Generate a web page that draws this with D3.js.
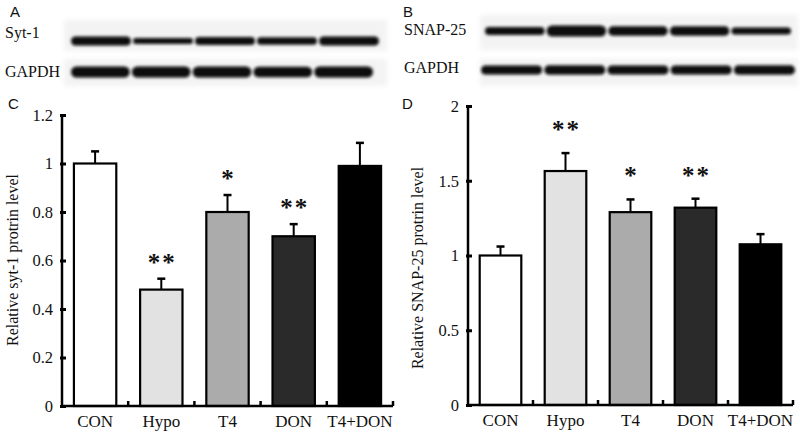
<!DOCTYPE html>
<html><head><meta charset="utf-8">
<script src="https://cdn.jsdelivr.net/npm/d3@7"></script>
<style>body{margin:0;background:#fff}svg{display:block}</style>
</head><body>
<svg id="c" width="800" height="433"></svg>
<script>
// ---- data ----
const categories = ["CON", "Hypo", "T4", "DON", "T4+DON"];
const syt1Means = [1.0, 0.48, 0.80, 0.70, 0.99];
const syt1Err   = [0.05, 0.045, 0.07, 0.05, 0.095];
const syt1Sig   = ["", "**", "*", "**", ""];
const snapMeans = [1.0, 1.565, 1.29, 1.32, 1.075];
const snapErr   = [0.06, 0.12, 0.085, 0.06, 0.068];
const snapSig   = ["", "**", "*", "**", ""];
const syt1Ticks = [0, 0.2, 0.4, 0.6, 0.8, 1.0, 1.2];
const snapTicks = [0, 0.5, 1, 1.5, 2];
const barFills  = ["#ffffff", "#e2e2e2", "#ababab", "#2a2a2a", "#000000"];
// western blot band strengths per lane (relative thickness)
const blotSyt1  = [9, 6, 8, 7.5, 9];
const blotGapdhA = [11, 11, 11, 10.5, 11];
const blotSnap  = [8, 11, 9.5, 9.5, 7];
const blotGapdhB = [9, 9.5, 9, 9, 9.5];

const svg = d3.select("#c");
const serif = "'Liberation Serif','Times New Roman',serif";
const sans = "'Liberation Sans',Arial,sans-serif";

const defs = svg.append("defs");
defs.append("filter").attr("id","blur").attr("x","-20%").attr("y","-100%").attr("width","140%").attr("height","300%")
  .append("feGaussianBlur").attr("stdDeviation", 1.4);
defs.append("filter").attr("id","blur2").attr("x","-10%").attr("y","-50%").attr("width","120%").attr("height","200%")
  .append("feGaussianBlur").attr("stdDeviation", 2.5);

// ---- panel letters ----
[["A",10,17],["B",403,17],["C",8,109],["D",402,109]].forEach(([t,x,y])=>{
  svg.append("text").attr("x",x).attr("y",y).attr("font-family",sans).attr("font-size",15).attr("fill","#111").text(t);
});

// ---- blots ----
function blot(x0, x1, yTop, yBot, yc, strengths, lanePad, label, lx, ly) {
  const g = svg.append("g");
  g.append("rect").attr("x",x0).attr("y",yTop).attr("width",x1-x0).attr("height",yBot-yTop)
    .attr("fill","#f3f3f3").attr("filter","url(#blur2)");
  const xs = d3.scaleBand().domain(d3.range(strengths.length)).range([x0+lanePad[0], x1-lanePad[1]]).paddingInner(0.0);
  g.selectAll("rect.band").data(strengths).join("rect").attr("class","band")
    .attr("x",(d,i)=>xs(i)+1).attr("width",xs.bandwidth()-2)
    .attr("y",d=>yc-d/2).attr("height",d=>d).attr("rx",d=>d/2)
    .attr("fill","#0a0a0a").attr("filter","url(#blur)");
  svg.append("text").attr("x",lx).attr("y",ly).attr("font-family",serif).attr("font-size",16).attr("fill","#111").text(label);
}
blot(64, 387, 20, 51, 41, blotSyt1, [6, 7], "Syt-1", 5, 38);
blot(64, 387, 59, 86, 72, blotGapdhA, [6, 13], "GAPDH", 5, 77);
blot(480, 798, 15, 50, 31, blotSnap, [4, 6], "SNAP-25", 404, 35);
blot(480, 798, 59, 86, 70, blotGapdhB, [0, 2], "GAPDH", 404, 73);

// ---- bar charts ----
function barChart(opt) {
  const {x0, x1, yTopPx, y0px, ymax, ticks, means, errs, sig, title, titleX, titleY, starOff} = opt;
  const x = d3.scaleBand().domain(categories).range([x0, x1]).paddingInner(0.36).paddingOuter(0.18);
  const xb = d3.scaleBand().domain(categories).range([x0, x1]);
  const y = d3.scaleLinear().domain([0, ymax]).range([y0px, yTopPx]);
  const g = svg.append("g");
  const data = categories.map((c,i)=>({c, m:means[i], e:errs[i], s:sig[i], f:barFills[i]}));

  // error bars (upper only)
  g.selectAll("line.eb").data(data).join("line").attr("class","eb")
    .attr("x1",d=>x(d.c)+x.bandwidth()/2).attr("x2",d=>x(d.c)+x.bandwidth()/2)
    .attr("y1",d=>y(d.m)).attr("y2",d=>y(d.m+d.e)).attr("stroke","#000").attr("stroke-width",2);
  g.selectAll("line.cap").data(data).join("line").attr("class","cap")
    .attr("x1",d=>x(d.c)+x.bandwidth()/2-4).attr("x2",d=>x(d.c)+x.bandwidth()/2+4)
    .attr("y1",d=>y(d.m+d.e)).attr("y2",d=>y(d.m+d.e)).attr("stroke","#000").attr("stroke-width",2.5);
  // bars
  g.selectAll("rect.bar").data(data).join("rect").attr("class","bar")
    .attr("x",d=>x(d.c)).attr("width",x.bandwidth())
    .attr("y",d=>y(d.m)).attr("height",d=>y0px-y(d.m))
    .attr("fill",d=>d.f).attr("stroke","#000").attr("stroke-width",2.2);
  // stars
  g.selectAll("text.star").data(data.filter(d=>d.s)).join("text").attr("class","star")
    .attr("x",d=>x(d.c)+x.bandwidth()/2+1).attr("y",d=>y(d.m+d.e)-starOff)
    .attr("text-anchor","middle").attr("font-family",serif).attr("font-size",25).attr("font-weight","bold")
    .attr("letter-spacing",2).attr("fill","#111").text(d=>d.s);

  // y axis
  const yAxis = d3.axisLeft(y).tickValues(ticks).tickSize(-4).tickPadding(9).tickFormat(d=>d3.format("")(d));
  const ga = svg.append("g").attr("transform",`translate(${x0},0)`).call(yAxis);
  ga.select(".domain").attr("stroke","#000").attr("stroke-width",2.5).attr("d",`M0,${y0px}V${yTopPx}`);
  ga.selectAll(".tick line").attr("stroke","#000").attr("stroke-width",3).attr("x1",-2).attr("x2",4);
  ga.selectAll(".tick text").attr("font-family",serif).attr("font-size",16.5).attr("fill","#111");

  // x axis
  const xAxis = d3.axisBottom(xb).tickSize(0).tickPadding(9);
  const gx = svg.append("g").attr("transform",`translate(0,${y0px})`).call(xAxis);
  gx.select(".domain").attr("stroke","#000").attr("stroke-width",2.5).attr("d",`M${x0},0H${x1}`);
  gx.selectAll(".tick text").attr("font-family",serif).attr("font-size",17).attr("fill","#111");
  // separator ticks (pointing up)
  gx.selectAll("line.sep").data(categories).join("line").attr("class","sep")
    .attr("x1",d=>xb(d)+xb.bandwidth()).attr("x2",d=>xb(d)+xb.bandwidth())
    .attr("y1",0).attr("y2",-5).attr("stroke","#000").attr("stroke-width",2.5);

  svg.append("text").attr("transform",`translate(${titleX},${titleY}) rotate(-90)`)
    .attr("text-anchor","middle").attr("font-family",serif).attr("font-size",16).attr("fill","#111").text(title);
}

barChart({x0:62, x1:393, yTopPx:115, y0px:406, ymax:1.2, ticks:syt1Ticks, means:syt1Means, errs:syt1Err, sig:syt1Sig,
  title:"Relative syt-1 protrin level", titleX:18, titleY:260, starOff:8});
barChart({x0:468, x1:793, yTopPx:106, y0px:405, ymax:2, ticks:snapTicks, means:snapMeans, errs:snapErr, sig:snapSig,
  title:"Relative SNAP-25 protrin level", titleX:423, titleY:268, starOff:15});
</script>
</body></html>
